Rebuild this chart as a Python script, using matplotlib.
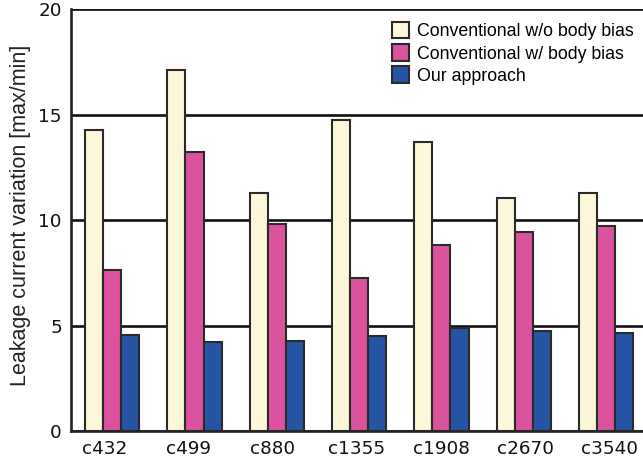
import numpy as np
import matplotlib
matplotlib.use("Agg")
import matplotlib.pyplot as plt

plt.rcParams['font.family'] = ['Liberation Sans', 'DejaVu Sans']

circuits = ["c432", "c499", "c880", "c1355", "c1908", "c2670", "c3540"]
series_names = ["Conventional w/o body bias", "Conventional w/ body bias", "Our approach"]
no_bias = [14.28, 17.09, 11.27, 14.74, 13.68, 11.04, 11.27]
with_bias = [7.65, 13.23, 9.8, 7.25, 8.83, 9.43, 9.7]
ours = [4.56, 4.2, 4.27, 4.5, 4.86, 4.73, 4.65]
colors = ["#FDF7DA", "#DB539F", "#2655A6"]

W, H = 643, 461
fig = plt.figure(figsize=(W / 100, H / 100), dpi=100)
ax = fig.add_axes([71 / W, (H - 431) / H, 1 - 71 / W, (431 - 9) / H])

x = np.arange(len(circuits))
w = 0.22
for i, (vals, name, c) in enumerate(zip([no_bias, with_bias, ours], series_names, colors)):
    ax.bar(x + (i - 1) * w, vals, width=w, color=c, edgecolor="#2a2a2a",
           linewidth=1.5, label=name, zorder=3)

ax.set_ylim(0, 20)
ax.set_xlim(-0.5, 6.45)
ax.set_yticks([0, 5, 10, 15, 20])
# category labels are laid out on a slightly wider pitch than the bar groups
label_x = 2.972 + 1.023 * (x - 3)
ax.set_xticks(label_x)
ax.set_xticklabels(circuits)
ax.tick_params(axis="both", length=0, colors="#111111")
for lab in ax.get_xticklabels() + ax.get_yticklabels():
    lab.set_family(["DejaVu Sans"])
    lab.set_fontsize(13.2)
ax.tick_params(axis="y", pad=6.5)
ax.tick_params(axis="x", pad=6.5)
ax.yaxis.grid(True, color="#111111", linewidth=1.9, zorder=0)
ax.set_axisbelow(True)
for s in ["top", "right"]:
    ax.spines[s].set_visible(False)
for s in ["left", "bottom"]:
    ax.spines[s].set_linewidth(1.9)
    ax.spines[s].set_color("#222222")
ax.set_ylabel("Leakage current variation [max/min]", fontsize=15.5, color="#222222")
ax.yaxis.set_label_coords(-40 / 572, 0.511)

leg = ax.legend(loc="upper left", bbox_to_anchor=(392 / W, 1 - 22 / H),
                bbox_transform=fig.transFigure, frameon=False,
                fontsize=12.8, handlelength=0.94, handleheight=1.05, handletextpad=0.45,
                labelspacing=0.22, borderpad=0, borderaxespad=0)
for h in leg.legend_handles:
    h.set_linewidth(1.5)

fig.savefig("out.png", dpi=100)
